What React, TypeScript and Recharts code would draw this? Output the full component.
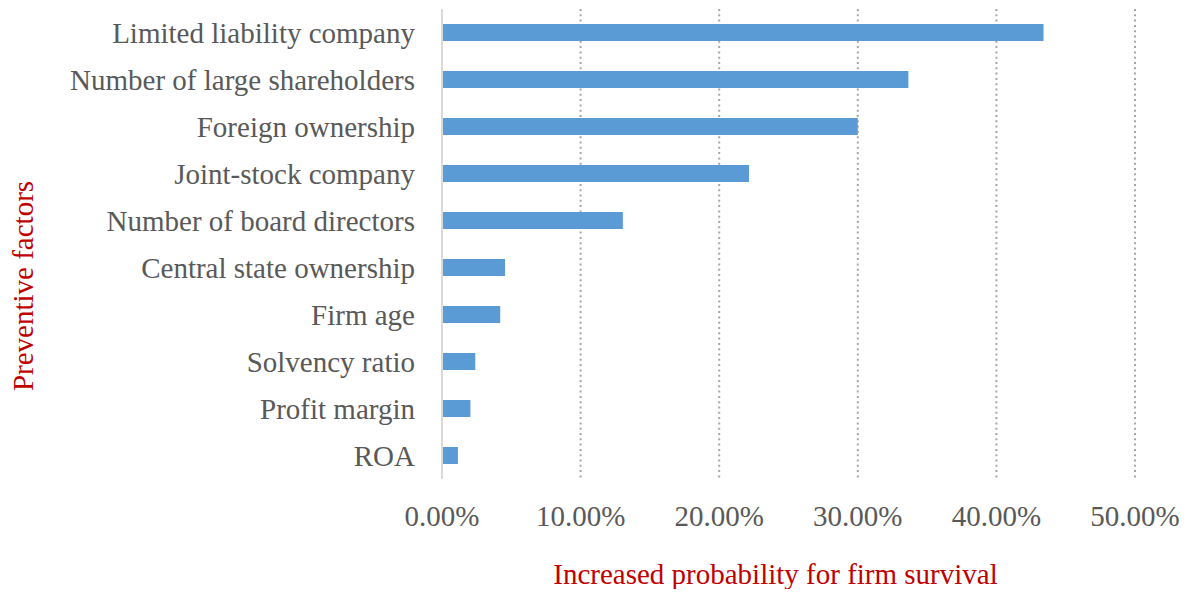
import React from "react";
import { BarChart, Bar, XAxis, YAxis, CartesianGrid } from "recharts";

const categories = [
  "Limited liability company",
  "Number of large shareholders",
  "Foreign ownership",
  "Joint-stock company",
  "Number of board directors",
  "Central state ownership",
  "Firm age",
  "Solvency ratio",
  "Profit margin",
  "ROA",
];
const values = [0.434, 0.3365, 0.3, 0.2215, 0.1305, 0.0455, 0.042, 0.024, 0.0205, 0.0115];
const xTicks = [0, 0.1, 0.2, 0.3, 0.4, 0.5];
const xTitle = "Increased probability for firm survival";
const yTitle = "Preventive factors";

const data = categories.map((name, i) => ({ name, value: values[i] }));

const FONT = "'Liberation Serif', 'Times New Roman', serif";
const TICK = "#595959";
const RED = "#c00000";

const YLabel = (props: any) => {
  const vb = props.viewBox || { x: 0, y: 0, width: 0, height: 0 };
  const x = vb.x + 25;
  const y = vb.y + vb.height / 2 + 42;
  return (
    <text
      x={x}
      y={y}
      transform={`rotate(-90, ${x}, ${y})`}
      textAnchor="middle"
      fill={RED}
      fontFamily={FONT}
      fontSize={29}
    >
      {yTitle}
    </text>
  );
};

const XLabel = (props: any) => {
  const vb = props.viewBox || { x: 0, y: 0, width: 0, height: 0 };
  const x = vb.x + vb.width / 2 - 13;
  const y = vb.y + 105;
  return (
    <text x={x} y={y} textAnchor="middle" fill={RED} fontFamily={FONT} fontSize={29}>
      {xTitle}
    </text>
  );
};

export default function App() {
  return (
    <div style={{ width: 1172, height: 581 }}>
      <BarChart
        width={1172}
        height={581}
        data={data}
        layout="vertical"
        margin={{ top: 1, right: 45, bottom: 50, left: 0 }}
      >
        <CartesianGrid
          horizontal={false}
          vertical={true}
          stroke="#a6a6a6"
          strokeWidth={2}
          strokeDasharray="2 3.3"
        />
        <XAxis
          type="number"
          domain={[0, 0.5]}
          ticks={xTicks}
          tickFormatter={(v: number) => (v * 100).toFixed(2) + "%"}
          axisLine={false}
          tickLine={false}
          tickSize={0}
          tickMargin={26}
          height={60}
          tick={{ fill: TICK, fontSize: 29, fontFamily: FONT }}
          label={<XLabel />}
          interval={0}
        />
        <YAxis
          type="category"
          dataKey="name"
          width={434}
          axisLine={{ stroke: "#d9d9d9", strokeWidth: 2 }}
          tickLine={false}
          tickSize={0}
          tickMargin={27}
          tick={{ fill: TICK, fontSize: 29, fontFamily: FONT }}
          label={<YLabel />}
          interval={0}
        />
        <Bar dataKey="value" fill="#5b9bd5" barSize={17} isAnimationActive={false} />
      </BarChart>
    </div>
  );
}
